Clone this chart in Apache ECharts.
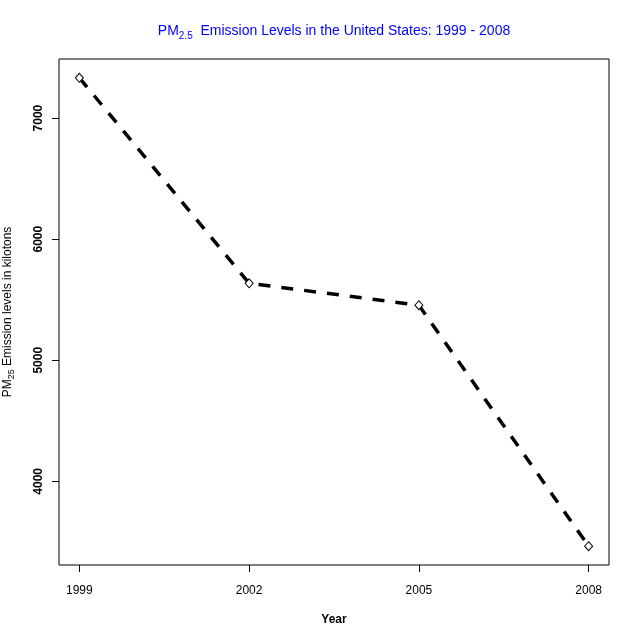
<!DOCTYPE html>
<html>
<head>
<meta charset="utf-8">
<script src="https://cdn.jsdelivr.net/npm/echarts@6/dist/echarts.min.js"></script>
<style>
  html, body { margin: 0; padding: 0; background: #fff; }
  #chart { width: 640px; height: 640px; }
</style>
</head>
<body>
<div id="chart"></div>
<script>
var years = [1999, 2002, 2005, 2008];
var emissions = [7332.97, 5635.78, 5454.70, 3464.21];
var yTicks = [4000, 5000, 6000, 7000];

var chartDom = document.getElementById('chart');
var myChart = echarts.init(chartDom);
var font = 'Arial, "Liberation Sans", sans-serif';

var points = [];
for (var i = 0; i < years.length; i++) {
    points.push([years[i], emissions[i]]);
}

var option = {
    animation: false,
    backgroundColor: '#fff',
    title: {
        text: '{a|PM}{s|2.5}{a|  Emission Levels in the United States: 1999 - 2008}',
        left: 329,
        textAlign: 'center',
        top: 16,
        textStyle: {
            fontWeight: 'normal',
            rich: {
                a: { color: '#0000ff', fontSize: 14, fontWeight: 'normal', fontFamily: font },
                s: { color: '#0000ff', fontSize: 10, fontWeight: 'normal', fontFamily: font, padding: [10, 0, 0, 0] }
            }
        }
    },
    grid: {
        left: 59, right: 31, top: 59, bottom: 75,
        outerBoundsMode: 'none',
        containLabel: false,
        show: true, borderColor: '#000', borderWidth: 1
    },
    xAxis: {
        type: 'value',
        min: 1998.64,
        max: 2008.36,
        name: 'Year',
        nameLocation: 'middle',
        nameGap: 49,
        nameTextStyle: { color: '#000', fontWeight: 'bold', fontSize: 12, fontFamily: font },
        axisLine: { show: false },
        splitLine: { show: false },
        axisTick: { show: true, length: 7, customValues: years, lineStyle: { color: '#000' } },
        axisLabel: { customValues: years, margin: 20, color: '#000', fontSize: 12, fontFamily: font,
            formatter: function (v) { return String(v); } }
    },
    yAxis: {
        type: 'value',
        min: 3309,
        max: 7488,
        name: '{a|PM}{s|25}{a| Emission levels in kilotons}',
        nameLocation: 'middle',
        nameGap: 43,
        nameRotate: 90,
        nameTextStyle: {
            rich: {
                a: { color: '#000', fontSize: 12, fontFamily: font },
                s: { color: '#000', fontSize: 9, fontFamily: font, padding: [8, 0, 0, 0] }
            }
        },
        axisLine: { show: false },
        splitLine: { show: false },
        axisTick: { show: true, length: 7, customValues: yTicks, lineStyle: { color: '#000' } },
        axisLabel: { customValues: yTicks, rotate: 90, margin: 14, color: '#000', fontSize: 12,
            fontWeight: 'bold', fontFamily: font,
            formatter: function (v) { return String(v); } }
    },
    series: [{
        type: 'line',
        data: points,
        symbol: 'diamond',
        symbolSize: [8, 9],
        itemStyle: { color: '#fff', borderColor: '#000', borderWidth: 1 },
        lineStyle: { color: '#000', width: 3.5, type: [12, 11], cap: 'butt' }
    }]
};

option && myChart.setOption(option);
</script>
</body>
</html>
